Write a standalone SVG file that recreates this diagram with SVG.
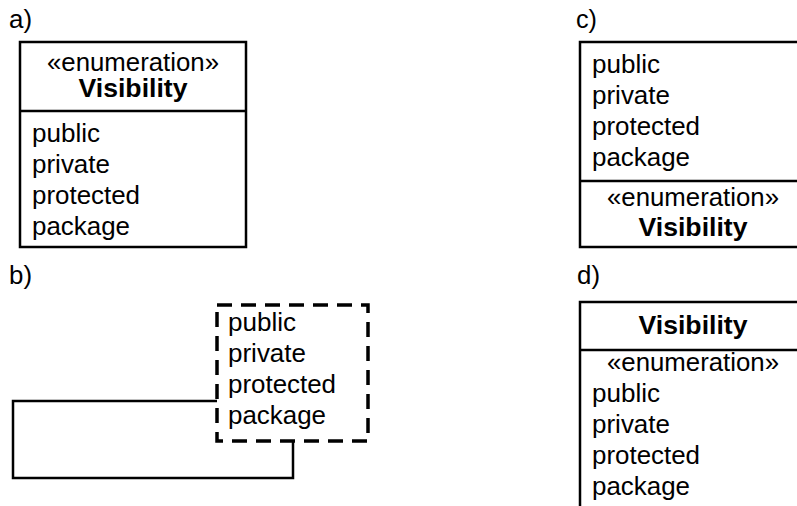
<svg xmlns="http://www.w3.org/2000/svg" width="797" height="506" viewBox="0 0 797 506">
<style>
text{font-family:"Liberation Sans",Arial,sans-serif;font-size:25px;fill:#000}
.b{font-weight:bold}
.m{text-anchor:middle}
.box{fill:none;stroke:#000;stroke-width:2.5}
.dash{fill:none;stroke:#000;stroke-width:3.5;stroke-dasharray:15 9}
</style>
<rect width="797" height="506" fill="#fff"/>
<g id="label-a"><text x="9" y="28" textLength="23" lengthAdjust="spacingAndGlyphs">a)</text></g>
<g id="node-a">
<rect class="box" x="20" y="42" width="226" height="205"/>
<line class="box" x1="20" y1="111" x2="246" y2="111"/>
<text class="m" x="133" y="71" textLength="172" lengthAdjust="spacingAndGlyphs">«enumeration»</text>
<text class="m b" x="133" y="97" textLength="109" lengthAdjust="spacingAndGlyphs">Visibility</text>
<text x="32" y="142" textLength="68" lengthAdjust="spacingAndGlyphs">public</text>
<text x="32" y="173" textLength="78" lengthAdjust="spacingAndGlyphs">private</text>
<text x="32" y="204" textLength="108" lengthAdjust="spacingAndGlyphs">protected</text>
<text x="32" y="235" textLength="98" lengthAdjust="spacingAndGlyphs">package</text>
</g>
<g id="label-c"><text x="576" y="28" textLength="21" lengthAdjust="spacingAndGlyphs">c)</text></g>
<g id="node-c">
<rect class="box" x="580" y="42" width="226" height="205"/>
<line class="box" x1="580" y1="181" x2="806" y2="181"/>
<text x="592" y="73" textLength="68" lengthAdjust="spacingAndGlyphs">public</text>
<text x="592" y="104" textLength="78" lengthAdjust="spacingAndGlyphs">private</text>
<text x="592" y="135" textLength="108" lengthAdjust="spacingAndGlyphs">protected</text>
<text x="592" y="166" textLength="98" lengthAdjust="spacingAndGlyphs">package</text>
<text class="m" x="693" y="206" textLength="172" lengthAdjust="spacingAndGlyphs">«enumeration»</text>
<text class="m b" x="693" y="236" textLength="109" lengthAdjust="spacingAndGlyphs">Visibility</text>
</g>
<g id="label-b"><text x="9" y="284" textLength="23" lengthAdjust="spacingAndGlyphs">b)</text></g>
<g id="node-b">
<path class="box" d="M217,401 H13 V478 H293 V442"/>
<rect class="dash" x="217" y="305" width="151" height="136"/>
<text x="228" y="331" textLength="68" lengthAdjust="spacingAndGlyphs">public</text>
<text x="228" y="362" textLength="78" lengthAdjust="spacingAndGlyphs">private</text>
<text x="228" y="393" textLength="108" lengthAdjust="spacingAndGlyphs">protected</text>
<text x="228" y="424" textLength="98" lengthAdjust="spacingAndGlyphs">package</text>
</g>
<g id="label-d"><text x="577" y="284" textLength="23" lengthAdjust="spacingAndGlyphs">d)</text></g>
<g id="node-d">
<path class="box" d="M580,520 V302 H806 M580,350 H806"/>
<text class="m b" x="693" y="334" textLength="109" lengthAdjust="spacingAndGlyphs">Visibility</text>
<text class="m" x="693" y="371" textLength="172" lengthAdjust="spacingAndGlyphs">«enumeration»</text>
<text x="592" y="402" textLength="68" lengthAdjust="spacingAndGlyphs">public</text>
<text x="592" y="433" textLength="78" lengthAdjust="spacingAndGlyphs">private</text>
<text x="592" y="464" textLength="108" lengthAdjust="spacingAndGlyphs">protected</text>
<text x="592" y="495" textLength="98" lengthAdjust="spacingAndGlyphs">package</text>
</g>
<g id="connectors"></g>
</svg>
